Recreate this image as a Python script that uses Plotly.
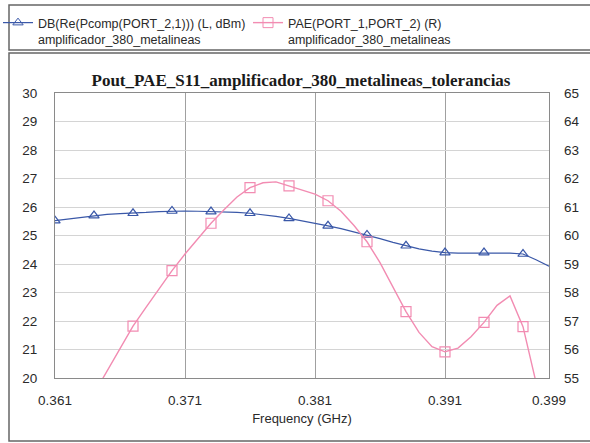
import plotly.graph_objects as go

# ---- data ----
freq = [0.361, 0.362, 0.363, 0.364, 0.365, 0.366, 0.367, 0.368, 0.369, 0.370,
        0.371, 0.372, 0.373, 0.374, 0.375, 0.376, 0.377, 0.378, 0.379, 0.380,
        0.381, 0.382, 0.383, 0.384, 0.385, 0.386, 0.387, 0.388, 0.389, 0.390,
        0.391, 0.392, 0.393, 0.394, 0.395, 0.396, 0.397, 0.398, 0.399]

pout_dbm = [25.52, 25.58, 25.64, 25.70, 25.74, 25.77, 25.78, 25.81, 25.84, 25.86,
            25.86, 25.85, 25.84, 25.83, 25.81, 25.78, 25.73, 25.67, 25.60, 25.52,
            25.43, 25.34, 25.24, 25.13, 25.02, 24.89, 24.76, 24.64, 24.53, 24.45,
            24.40, 24.38, 24.38, 24.40, 24.39, 24.38, 24.35, 24.15, 23.92]

pae_freq = [0.364, 0.365, 0.366, 0.367, 0.368, 0.369, 0.370, 0.371, 0.372, 0.373,
            0.374, 0.375, 0.376, 0.377, 0.378, 0.379, 0.380, 0.381, 0.382, 0.383,
            0.384, 0.385, 0.386, 0.387, 0.388, 0.389, 0.390, 0.391, 0.392, 0.393,
            0.394, 0.395, 0.396, 0.397, 0.398, 0.399]
pae = [54.45, 55.24, 56.03, 56.82, 57.48, 58.13, 58.77, 59.35, 59.90, 60.43,
       60.90, 61.35, 61.68, 61.85, 61.88, 61.74, 61.60, 61.45, 61.22, 60.85,
       60.35, 59.78, 59.05, 58.20, 57.33, 56.60, 56.10, 55.92, 56.05, 56.45,
       56.95, 57.55, 57.88, 56.80, 54.80, 52.90]

pout_marker_freq = [0.361, 0.364, 0.367, 0.370, 0.373, 0.376, 0.379, 0.382,
                    0.385, 0.388, 0.391, 0.394, 0.397]
pae_marker_freq = [0.367, 0.370, 0.373, 0.376, 0.379, 0.382, 0.385, 0.388,
                   0.391, 0.394, 0.397]

x_ticks = [0.361, 0.371, 0.381, 0.391, 0.399]
x_ticktext = ["0.361", "0.371", "0.381", "0.391", "0.399"]

name_pout = "DB(Re(Pcomp(PORT_2,1))) (L, dBm)<br>amplificador_380_metalineas"
name_pae = "PAE(PORT_1,PORT_2) (R)<br>amplificador_380_metalineas"
title = "Pout_PAE_S11_amplificador_380_metalineas_tolerancias"

# ---- styles ----
BLUE = "#3a58a8"
PINK = "#f28cb2"
FONT = "Liberation Sans, Arial, sans-serif"
TXT = "#2a2a2a"

def pick(xs, ys, sel):
    return [ys[xs.index(s)] for s in sel]

fig = go.Figure()

# curves
fig.add_trace(go.Scatter(x=freq, y=pout_dbm, mode="lines", showlegend=False,
                         line=dict(color=BLUE, width=1.2), hoverinfo="skip"))
fig.add_trace(go.Scatter(x=pae_freq, y=pae, mode="lines", showlegend=False, yaxis="y2",
                         line=dict(color=PINK, width=1.4), hoverinfo="skip"))
# markers
fig.add_trace(go.Scatter(x=pout_marker_freq, y=pick(freq, pout_dbm, pout_marker_freq),
                         mode="markers", showlegend=False,
                         marker=dict(symbol="triangle-up-open", size=9, color=BLUE,
                                     line=dict(width=1.2, color=BLUE))))
fig.add_trace(go.Scatter(x=pae_marker_freq, y=pick(pae_freq, pae, pae_marker_freq),
                         mode="markers", showlegend=False, yaxis="y2",
                         marker=dict(symbol="square-open", size=10, color=PINK,
                                     line=dict(width=1.2, color=PINK))))
# legend entries
fig.add_trace(go.Scatter(x=[None], y=[None], mode="lines+markers", name=name_pout,
                         line=dict(color=BLUE, width=1.2), legend="legend",
                         marker=dict(symbol="triangle-up-open", size=9, color=BLUE)))
fig.add_trace(go.Scatter(x=[None], y=[None], mode="lines+markers", name=name_pae,
                         line=dict(color=PINK, width=1.4), legend="legend2", yaxis="y2",
                         marker=dict(symbol="square-open", size=10, color=PINK)))

L, R, T, B = 55, 41, 93, 65
W, H = 590, 443
pw, ph = W - L - R, H - T - B

def px(x):
    return (x - L) / pw

def py(y):
    return (H - B - y) / ph

fig.update_layout(
    width=W, height=H,
    margin=dict(l=L, r=R, t=T, b=B, autoexpand=False),
    paper_bgcolor="white", plot_bgcolor="white",
    font=dict(family=FONT, size=12, color=TXT),
    title=dict(text="<b>" + title + "</b>", x=px(301), xref="paper", xanchor="center",
               y=(H - 80) / H, yref="container", yanchor="middle",
               font=dict(family="Liberation Serif, Times New Roman, serif", size=17,
                         color="#1a1a1a")),
    xaxis=dict(range=[0.361, 0.399], tickvals=x_ticks, ticktext=x_ticktext,
               showgrid=True, gridcolor="#a0a0a0", gridwidth=1,
               showline=True, linecolor="#8a8a8a", linewidth=1.2, mirror=True,
               ticks="", ticklabelstandoff=10, zeroline=False,
               tickfont=dict(size=13.5, color=TXT),
               title=dict(text="Frequency (GHz)", standoff=6,
                          font=dict(size=13, color=TXT))),
    yaxis=dict(range=[20, 30], dtick=1, showgrid=True, gridcolor="#d4d4d4", gridwidth=1,
               showline=True, linecolor="#8a8a8a", linewidth=1.2, mirror=True,
               ticks="", ticklabelstandoff=14, zeroline=False,
               tickfont=dict(size=13.5, color=TXT)),
    yaxis2=dict(range=[55, 65], dtick=1, overlaying="y", side="right", showgrid=False,
                ticks="", ticklabelstandoff=14, zeroline=False, showline=False,
                tickfont=dict(size=13.5, color=TXT)),
    legend=dict(x=px(-2), y=py(8), xanchor="left", yanchor="top", orientation="v",
                bgcolor="rgba(0,0,0,0)", valign="top", tracegroupgap=0,
                font=dict(size=12.5, color=TXT)),
    legend2=dict(x=px(248), y=py(8), xanchor="left", yanchor="top", orientation="v",
                 bgcolor="rgba(0,0,0,0)", valign="top",
                 font=dict(size=12.5, color=TXT)),
    shapes=[
        dict(type="rect", xref="paper", yref="paper", x0=px(9), x1=px(600),
             y0=py(50), y1=py(5), line=dict(color="#666666", width=1.5)),
        dict(type="rect", xref="paper", yref="paper", x0=px(9), x1=px(600),
             y0=py(441), y1=py(53), line=dict(color="#666666", width=1.5)),
    ],
)

fig.write_html("out.html", config={"displayModeBar": False},
               post_script="document.body.style.margin='0';document.body.style.overflow='hidden';")
